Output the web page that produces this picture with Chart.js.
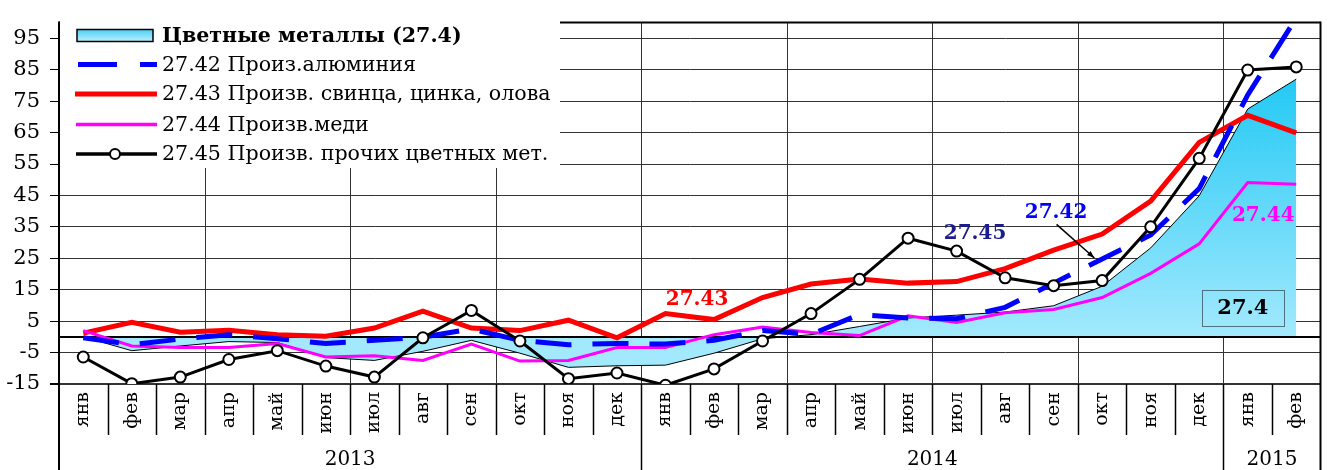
<!DOCTYPE html>
<html>
<head>
<meta charset="utf-8">
<script src="https://cdn.jsdelivr.net/npm/chart.js@4.4.1/dist/chart.umd.min.js"></script>
<style>
    body { margin: 0; background: #fff; }
</style>
</head>
<body>
<canvas id="metals-chart" width="1328" height="470"></canvas>
<script>
// data //
//////////
var months = ["янв", "фев", "мар", "апр", "май", "июн", "июл", "авг", "сен", "окт", "ноя", "дек",
              "янв", "фев", "мар", "апр", "май", "июн", "июл", "авг", "сен", "окт", "ноя", "дек",
              "янв", "фев"]
var years = ["2013", "2014", "2015"]
var yearStart = [0, 12, 24]
var yTicks = [-15, -5, 5, 15, 25, 35, 45, 55, 65, 75, 85, 95]

// 27.4 Цветные металлы
var total = [0, -4.4, -2.9, -1.5, -1.8, -6.6, -7.5, -4.6, -1.1, -5.2, -9.7, -9.2,
             -9.0, -5.2, -0.6, 0.7, 3.3, 6.0, 6.9, 7.9, 9.9, 16.1, 28.3, 44.9,
             72.5, 82.0]
// 27.42 алюминий
var alum = [-0.3, -2.5, -0.7, 0.7, -0.6, -2.1, -1.1, -0.1, 2.5, -1.1, -2.5, -2.1,
            -2.3, -1.1, 2.0, 0.8, 7.1, 6.0, 5.8, 9.4, 17.1, 24.8, 32.4, 47.2,
            77.0, 101.5]
// 27.43 свинец, цинк, олово
var lead = [1.2, 4.6, 1.5, 2.1, 0.7, 0.2, 2.8, 8.2, 2.8, 2.0, 5.3, -0.3,
            7.4, 5.5, 12.5, 16.8, 18.4, 17.1, 17.6, 21.7, 27.6, 32.7, 43.2, 61.9,
            70.5, 64.9]
// 27.44 медь
var copper = [2.0, -2.9, -3.4, -3.4, -2.1, -6.4, -6.0, -7.5, -2.3, -7.7, -7.5, -3.4,
              -3.4, 0.7, 3.1, 1.4, 0.4, 6.7, 4.6, 7.7, 8.7, 12.5, 20.2, 29.6,
              49.1, 48.6]
// 27.45 прочие цветные металлы
var other = [-6.4, -14.9, -12.8, -7.2, -4.4, -9.3, -12.8, -0.3, 8.4, -1.3, -13.3, -11.5,
             -15.4, -10.2, -1.3, 7.4, 18.3, 31.4, 27.3, 18.8, 16.3, 17.9, 35.0, 56.8,
             84.9, 85.9]

var legendNames = ["Цветные металлы (27.4)", "27.42 Произ.алюминия",
                   "27.43 Произв. свинца, цинка, олова", "27.44 Произв.меди",
                   "27.45 Произв. прочих цветных мет."]

var FONT = "DejaVu Serif"

function areaFill(context) {
    var c = context.chart
    if (!c.chartArea) return "#a3e9fd"
    var y = c.scales.y
    var g = c.ctx.createLinearGradient(0, y.getPixelForValue(0), 0, y.getPixelForValue(85))
    g.addColorStop(0, "#a3e9fd")
    g.addColorStop(1, "#1ec8f4")
    return g
}

// pixel of the border between category i-1 and i
function edgeX(x, i) {
    var w = x.getPixelForValue(1) - x.getPixelForValue(0)
    return x.getPixelForValue(i) - w / 2
}

function vline(ctx, x, y1, y2, w, color) {
    ctx.beginPath()
    ctx.lineWidth = w
    ctx.strokeStyle = color
    ctx.moveTo(x, y1)
    ctx.lineTo(x, y2)
    ctx.stroke()
}

var frame = {
    id: "frame",
    beforeDraw: function(chart) {
        var ctx = chart.ctx, a = chart.chartArea, x = chart.scales.x
        ctx.save()
        for (var i = 3; i < months.length; i += 3) {
            var px = Math.round(edgeX(x, i)) + 0.5
            vline(ctx, px, a.top, a.bottom, 1, "#333")
        }
        ctx.restore()
    },
    beforeDatasetsDraw: function(chart) {
        var ctx = chart.ctx, a = chart.chartArea, y = chart.scales.y
        var y0 = Math.round(y.getPixelForValue(0))
        ctx.save()
        ctx.beginPath()
        ctx.lineWidth = 2
        ctx.strokeStyle = "#000"
        ctx.moveTo(a.left, y0)
        ctx.lineTo(a.right, y0)
        ctx.stroke()
        ctx.restore()
    },
    afterDraw: function(chart) {
        var ctx = chart.ctx, a = chart.chartArea, x = chart.scales.x, y = chart.scales.y
        var H = chart.height
        ctx.save()

        // month separators and year separators under the axis
        for (var i = 1; i < months.length; i++) {
            var px = Math.round(edgeX(x, i)) + 0.5
            var isYear = yearStart.indexOf(i) >= 0
            vline(ctx, px, a.bottom, isYear ? H : a.bottom + 51, 1.5, "#000")
        }
        vline(ctx, a.left, a.top - 1, H, 2, "#000")
        vline(ctx, a.right, a.top - 1, H, 2, "#000")
        ctx.beginPath()
        ctx.lineWidth = 2
        ctx.moveTo(a.left, a.top)
        ctx.lineTo(a.right, a.top)
        ctx.stroke()

        // year labels
        ctx.fillStyle = "#000"
        ctx.font = "20px '" + FONT + "'"
        ctx.textAlign = "center"
        ctx.textBaseline = "middle"
        for (var k = 0; k < years.length; k++) {
            var from = edgeX(x, yearStart[k])
            var to = k + 1 < years.length ? edgeX(x, yearStart[k + 1]) : a.right
            ctx.fillText(years[k], (from + to) / 2, 460)
        }

        // callouts
        ctx.font = "bold 20px '" + FONT + "'"
        var callouts = [
            ["27.43", "#ff0000", 12.65, 11.9],
            ["27.45", "#1c1c8c", 18.38, 32.8],
            ["27.42", "#0000ff", 20.05, 39.6],
            ["27.44", "#ff00ff", 24.32, 38.6]
        ]
        callouts.forEach(function(c) {
            ctx.fillStyle = c[1]
            ctx.fillText(c[0], x.getPixelForValue(c[2]), y.getPixelForValue(c[3]))
        })

        // arrow for 27.42
        var ax1 = x.getPixelForValue(20.06), ay1 = y.getPixelForValue(35.8)
        var ax2 = x.getPixelForValue(20.84), ay2 = y.getPixelForValue(25.1)
        ctx.beginPath()
        ctx.strokeStyle = "#000"
        ctx.lineWidth = 1.5
        ctx.moveTo(ax1, ay1)
        ctx.lineTo(ax2, ay2)
        ctx.stroke()
        var ang = Math.atan2(ay2 - ay1, ax2 - ax1)
        ctx.beginPath()
        ctx.fillStyle = "#000"
        ctx.moveTo(ax2, ay2)
        ctx.lineTo(ax2 - 8 * Math.cos(ang - 0.35), ay2 - 8 * Math.sin(ang - 0.35))
        ctx.lineTo(ax2 - 8 * Math.cos(ang + 0.35), ay2 - 8 * Math.sin(ang + 0.35))
        ctx.closePath()
        ctx.fill()

        // 27.4 box
        var bx = x.getPixelForValue(23.9), by = y.getPixelForValue(9.2)
        ctx.setLineDash([1, 1])
        ctx.lineWidth = 1
        ctx.strokeStyle = "#000"
        ctx.strokeRect(Math.round(bx - 41) + 0.5, Math.round(by - 18) + 0.5, 82, 36)
        ctx.setLineDash([])
        ctx.fillStyle = "#000"
        ctx.font = "bold 21px '" + FONT + "'"
        ctx.fillText("27.4", bx, by + 1)

        // legend
        ctx.fillStyle = "#fff"
        ctx.fillRect(a.left + 1, 16, 500, 152)
        var rows = [35.5, 64.5, 94, 124.5, 154]
        var s1 = 76, s2 = 157
        ctx.textAlign = "left"

        var lg = ctx.createLinearGradient(0, rows[0] - 6, 0, rows[0] + 6)
        lg.addColorStop(0, "#4fd0f6")
        lg.addColorStop(1, "#b9effd")
        ctx.fillStyle = lg
        ctx.fillRect(77, rows[0] - 6, 76, 12)
        ctx.lineWidth = 1.5
        ctx.strokeStyle = "#000"
        ctx.strokeRect(77, rows[0] - 6, 76, 12)

        ctx.lineCap = "butt"
        ctx.lineWidth = 5
        ctx.strokeStyle = "#0000ff"
        ctx.beginPath()
        ctx.moveTo(78, rows[1]); ctx.lineTo(117, rows[1])
        ctx.moveTo(140, rows[1]); ctx.lineTo(s2, rows[1])
        ctx.stroke()

        ctx.strokeStyle = "#ff0000"
        ctx.beginPath()
        ctx.moveTo(75, rows[2]); ctx.lineTo(s2, rows[2])
        ctx.stroke()

        ctx.lineWidth = 3.5
        ctx.strokeStyle = "#ff00ff"
        ctx.beginPath()
        ctx.moveTo(s1, rows[3]); ctx.lineTo(s2, rows[3])
        ctx.stroke()

        ctx.strokeStyle = "#000"
        ctx.beginPath()
        ctx.moveTo(s1, rows[4]); ctx.lineTo(s2, rows[4])
        ctx.stroke()
        ctx.beginPath()
        ctx.lineWidth = 2
        ctx.fillStyle = "#fff"
        ctx.arc(115, rows[4], 5, 0, Math.PI * 2)
        ctx.fill()
        ctx.stroke()

        ctx.fillStyle = "#000"
        for (var r = 0; r < legendNames.length; r++) {
            ctx.font = (r === 0 ? "bold " : "") + "20.6px '" + FONT + "'"
            ctx.fillText(legendNames[r], 162, rows[r] + 1)
        }
        ctx.restore()
    }
}

const data = {
    labels: months,
    datasets: [
        {
            label: legendNames[4],
            data: other,
            borderColor: "#000",
            borderWidth: 3,
            pointRadius: 5.5,
            pointBorderWidth: 2,
            pointBackgroundColor: "#fff",
            pointBorderColor: "#000",
            fill: false
        },
        {
            label: legendNames[1],
            data: alum,
            borderColor: "#0000ff",
            borderWidth: 5,
            borderDash: [36, 21],
            pointRadius: 0,
            fill: false,
            clip: { left: 5, top: 12, right: 5, bottom: 5 }
        },
        {
            label: legendNames[3],
            data: copper,
            borderColor: "#ff00ff",
            borderWidth: 3,
            pointRadius: 0,
            fill: false
        },
        {
            label: legendNames[2],
            data: lead,
            borderColor: "#ff0000",
            borderWidth: 5,
            pointRadius: 0,
            fill: false
        },
        {
            label: legendNames[0],
            data: total,
            borderColor: "#000",
            borderWidth: 1,
            pointRadius: 0,
            backgroundColor: areaFill,
            fill: "origin"
        }
    ]
}

var chart = new Chart(document.getElementById("metals-chart"), {
    type: "line",
    data: data,
    options: {
        responsive: false,
        devicePixelRatio: 1,
        animation: false,
        elements: { line: { tension: 0 } },
        layout: { padding: { top: 11, right: 4, left: 0, bottom: 0 } },
        plugins: {
            legend: { display: false },
            tooltip: { enabled: false },
            filler: { drawTime: "beforeDatasetsDraw" }
        },
        scales: {
            x: {
                type: "category",
                offset: true,
                grid: { display: false, drawTicks: false },
                border: { display: false },
                ticks: {
                    autoSkip: false,
                    minRotation: 90,
                    maxRotation: 90,
                    padding: 8,
                    color: "#000",
                    font: { family: FONT, size: 19 }
                },
                afterFit: function(s) { s.height = 86 }
            },
            y: {
                min: -15,
                max: 100,
                afterBuildTicks: function(s) {
                    s.ticks = yTicks.map(function(v) { return { value: v } })
                },
                grid: {
                    color: "#333",
                    tickColor: "#000",
                    tickLength: 9,
                    lineWidth: function(c) { return c.tick && c.tick.value === -15 ? 2 : 1 }
                },
                border: { color: "#000", width: 2 },
                ticks: {
                    padding: 10,
                    color: "#000",
                    font: { family: FONT, size: 21 },
                    callback: function(v) { return String(v) }
                },
                afterFit: function(s) { s.width = 59 }
            }
        }
    },
    plugins: [frame]
})
</script>
</body>
</html>
